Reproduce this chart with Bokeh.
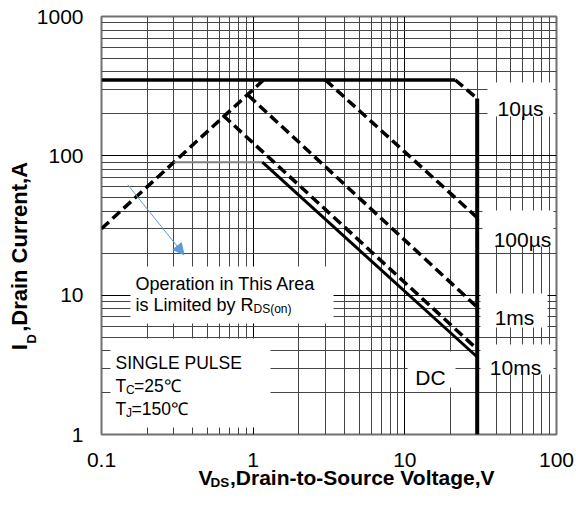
import math
from bokeh.plotting import figure
from bokeh.models import (FixedTicker, NumeralTickFormatter, Label, BoxAnnotation,
                          Arrow, NormalHead)
from bokeh.embed import file_html
from bokeh.resources import INLINE

# ---------------- data ----------------
x_ticks = [0.1, 1, 10, 100]
y_ticks = [1, 10, 100, 1000]
x_minor = [m * d for d in (0.1, 1, 10) for m in range(2, 10)]
y_minor = [m * d for d in (1, 10, 100) for m in range(2, 10)]

# current limit (solid) and 10us corner (dashed), then BVDSS limit (solid)
limit_v = [0.1, 21.5]
limit_i = [350, 350]
corner_v = [21.5, 30]
corner_i = [350, 258]
bvdss_v = [30, 30]
bvdss_i = [258, 1]
# RDS(on) limit (dashed)
rds_v = [0.1, 1.17]
rds_i = [30, 350]
# pulse lines (dashed)
us100_v = [3.0, 30]
us100_i = [350, 36]
ms1_v = [0.93, 30]
ms1_i = [271, 8.2]
ms10_v = [0.634, 30]
ms10_i = [195, 4.1]
# DC line
dc_flat_v = [0.3, 1.15]
dc_flat_i = [90, 90]
dc_v = [1.15, 30]
dc_i = [90, 3.6]
# annotation arrow
arrow_v = [0.149, 0.35]
arrow_i = [62, 19.5]

FONT = "Liberation Sans"
BLUE = "#5b9bd5"
NB = "\u00a0"

p = figure(width=576, height=509, x_axis_type="log", y_axis_type="log",
           x_range=(0.1, 100), y_range=(1, 1000), output_backend="svg",
           toolbar_location=None, min_border_left=101, min_border_right=20,
           min_border_top=16, min_border_bottom=75)
p.background_fill_color = "white"
p.border_fill_color = "white"
p.outline_line_color = "#707070"
p.outline_line_width = 2

p.xaxis.ticker = FixedTicker(ticks=x_ticks, minor_ticks=x_minor)
p.yaxis.ticker = FixedTicker(ticks=y_ticks, minor_ticks=y_minor)
for ax in (p.xaxis[0], p.yaxis[0]):
    ax.formatter = NumeralTickFormatter(format="0.[0]")
    ax.major_label_text_font = FONT
    ax.major_label_text_font_size = "21px"
    ax.major_label_text_color = "black"
    ax.major_tick_in = 0
    ax.major_tick_out = 0
    ax.minor_tick_in = 0
    ax.minor_tick_out = 0
    ax.axis_line_color = None
    ax.major_label_standoff = 18
    ax.axis_label_text_font = FONT
    ax.axis_label_text_font_style = "bold"
    ax.axis_label_text_color = "black"

p.xaxis.axis_label = NB * 6 + "V" + NB * 3 + ",Drain-to-Source Voltage,V"
p.xaxis.axis_label_text_font_size = "21px"
p.xaxis.axis_label_standoff = -4
p.yaxis.axis_label = "I" + NB * 2 + ",Drain Current,A" + NB * 10
p.yaxis.axis_label_text_font_size = "22px"
p.yaxis.axis_label_standoff = 2

for g in (p.xgrid[0], p.ygrid[0]):
    g.grid_line_color = "black"
    g.grid_line_width = 1
    g.minor_grid_line_color = "#454545"
    g.minor_grid_line_width = 1

DASH = "10 5"
p.line(limit_v, limit_i, line_color="black", line_width=3.5)
p.line(corner_v, corner_i, line_color="black", line_width=3.5, line_dash=DASH)
p.line(bvdss_v, bvdss_i, line_color="black", line_width=4)
p.line(rds_v, rds_i, line_color="black", line_width=3.5, line_dash=DASH)
p.line(us100_v, us100_i, line_color="black", line_width=3.5, line_dash=DASH)
p.line(ms1_v, ms1_i, line_color="black", line_width=3.5, line_dash=DASH)
p.line(ms10_v, ms10_i, line_color="black", line_width=3.5, line_dash=DASH)
p.line(dc_flat_v, dc_flat_i, line_color="#808080", line_width=2)
p.line(dc_v, dc_i, line_color="black", line_width=3)

p.add_layout(Arrow(end=NormalHead(size=11, fill_color=BLUE, line_color=BLUE, line_width=1),
                   x_start=arrow_v[0], y_start=arrow_i[0], x_end=arrow_v[1], y_end=arrow_i[1],
                   line_color=BLUE, line_width=1))

# page pixel -> frame screen units
FL, FB, FT, FR = 101, 434, 16, 556
def fx(px):
    return px - FL
def fy(py):
    return FB - py

def box(l, t, r, b):
    p.add_layout(BoxAnnotation(left=fx(l), right=fx(r), top=fy(t), bottom=fy(b),
                               left_units="screen", right_units="screen",
                               top_units="screen", bottom_units="screen",
                               fill_color="white", fill_alpha=1, line_color=None))

def mk(s, x, y, size, bold=False, align="left", angle=0):
    return Label(x=x, y=y, x_units="screen", y_units="screen",
                 text=s, text_font=FONT, text_font_size=f"{size}px",
                 text_font_style="bold" if bold else "normal",
                 text_align=align, text_baseline="alphabetic",
                 text_color="black", angle=angle)

def txt(s, px, py, size, bold=False, align="left", angle=0):
    p.add_layout(mk(s, fx(px), fy(py), size, bold, align, angle))

# label boxes
box(487, 82, 553, 116)
box(482, 210, 553, 246)
box(480, 293, 547, 327)
box(480, 344, 553, 374)
box(407, 351, 455, 387)
box(130, 266, 333, 323)
box(110, 338, 270, 427)

txt("10µs", 520, 108, 21, align="center")
txt("100µs", 522, 239, 21, align="center")
txt("1ms", 514, 317, 21, align="center")
txt("10ms", 515, 367, 21, align="center")
txt("DC", 430, 377, 21, align="center")

txt("Operation in This Area", 135, 283, 18)
txt("is Limited by R", 135, 304, 18)
txt("DS(on)", 253, 308, 12)

txt("SINGLE PULSE", 115, 362, 17.5)
txt("T", 115, 385, 17.5)
txt("C", 125.5, 389, 12)
txt("=25℃", 133.5, 385, 17.5)
txt("T", 115, 408, 17.5)
txt("J", 125.5, 412, 12)
txt("=150℃", 131, 408, 17.5)

# axis-title subscripts, placed in side panels (not clipped to the frame)
p.add_layout(mk("DS", 210 - FR, FB - 482, 13.5, bold=True), "right")
p.add_layout(mk("D", 31 - FL, FT - 343, 13, bold=True, angle=math.pi / 2), "above")

open("out.html", "w").write(file_html(p, INLINE))
